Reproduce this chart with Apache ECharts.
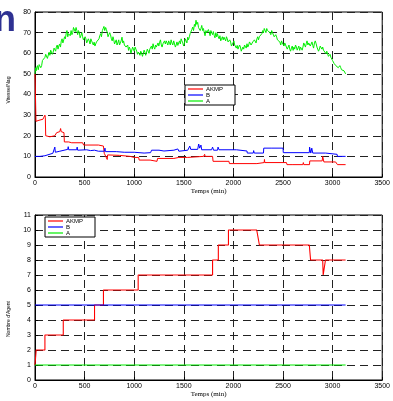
<!DOCTYPE html>
<html><head><meta charset="utf-8">
<script src="https://cdn.jsdelivr.net/npm/echarts@6/dist/echarts.min.js"></script>
<style>html,body{margin:0;padding:0;background:#fff}#c{width:393px;height:401px}</style>
</head><body><div id="c"></div>
<script>
const seriesNames = ['AKMP', 'B', 'A'];
const xLabelName = 'Temps (min)';
const yNameTop = 'Vitesse/Nag';
const yNameBottom = "Nombre d'Agent";

// top chart
const akmpTop = [[0,50],[6,50],[10,27],[40,27.5],[60,27],[80,28],[95,28.5],[100,30],[104,29],[108,20],[150,19.5],[200,20],[215,20.4],[218,21.5],[250,22],[258,23.5],[264,22],[292,21.5],[296,17],[340,17],[360,17.5],[370,16.6],[480,16.6],[490,15.5],[640,15.5],[650,15],[690,15],[698,11.5],[715,10.7],[728,8.5],[732,10.7],[850,10.5],[960,10],[1000,9.5],[1045,9.5],[1050,8.2],[1160,8.2],[1165,7.6],[1230,7.6],[1235,9],[1400,9],[1450,9.5],[1540,9.5],[1545,10],[1700,10],[1710,11],[1715,10],[1790,10],[1795,7.6],[1955,7.6],[1960,6.5],[2237,6.5],[2240,7],[2310,7],[2313,8.5],[2316,7],[2535,7],[2540,6],[2600,6],[2605,6.8],[2610,6],[2700,6],[2705,7],[2710,6],[2767,6],[2770,7.8],[2895,7.8],[2900,10],[2908,10],[2912,7.3],[3030,7.3],[3049,6],[3131,6]];
const bTop = [[0,10],[50,10],[100,10.3],[110,11.2],[180,11.5],[190,12],[200,14.5],[205,12],[250,12.5],[255,13.4],[330,13.4],[335,14.7],[340,13.2],[420,13.2],[425,14.5],[430,13],[520,13.2],[560,12.8],[600,13],[640,12.5],[700,12.5],[705,14],[710,12.3],[820,12.3],[900,12],[1000,12],[1100,11.6],[1165,11.8],[1175,13],[1250,13],[1300,12.6],[1310,13],[1400,13],[1440,13.6],[1450,12.5],[1460,13],[1540,13],[1560,15],[1570,13.4],[1640,13.4],[1650,16],[1660,14],[1673,15.5],[1680,13.2],[1780,13.2],[1790,14.5],[1800,13],[1840,13],[1845,14.5],[1855,13.2],[2030,13.2],[2040,12.6],[2137,12.6],[2140,11.6],[2200,11.6],[2204,12.8],[2210,11.6],[2303,11.6],[2306,14],[2380,14],[2386,14.8],[2395,14],[2500,14],[2503,11.8],[2765,11.8],[2768,14.5],[2780,11.6],[2790,14],[2800,11.6],[2930,11.6],[2933,11],[3045,11],[3049,10],[3131,10]];
const aTop = [[0,50],[4,52],[8,53],[12,51.5],[17,53],[25,54],[33,52],[42,54.5],[50,55],[58,53],[67,54],[75,56.5],[83,56],[92,57],[100,58],[108,59.5],[117,60],[125,57.5],[133,58],[142,60.5],[150,59],[158,61.5],[167,61],[175,59.5],[183,60.5],[192,62.5],[200,62],[208,61],[215,63],[224,64],[232,62],[240,63.5],[248,64.5],[257,63],[265,66],[273,67],[281,65],[290,66.5],[298,68],[306,67],[314,69.5],[322,71],[330,68],[338,69.5],[347,70],[355,68.5],[364,71],[372,69],[380,70],[388,72.5],[397,72],[405,70.5],[414,72.5],[422,71],[430,69],[438,71],[447,70],[455,67.5],[463,68.5],[472,70],[480,68],[488,66.5],[497,66],[505,68],[513,67],[521,65],[530,65.4],[538,67],[546,66],[555,64.5],[563,67],[571,66],[579,65],[588,64],[596,65.4],[604,63.5],[612,64],[620,65.5],[629,64.6],[637,66],[645,67],[653,68.5],[662,69.5],[670,68],[679,71],[687,72],[695,73],[703,71],[712,72.5],[720,71.5],[728,70],[736,68],[745,67.8],[753,70],[761,69],[770,67],[778,66],[786,68],[794,66.5],[802,64.5],[811,65.4],[819,66.5],[827,64],[835,65],[844,66.5],[852,64],[860,65],[868,66],[877,67.8],[885,65],[893,66],[901,64],[910,64.6],[918,63],[926,62.5],[934,64],[943,61.4],[951,63],[959,62],[967,60],[976,60.6],[984,63],[992,62],[1000,61],[1009,63],[1017,62],[1025,61],[1033,59.5],[1042,60.6],[1050,61.5],[1058,59],[1066,61],[1075,60],[1083,58.5],[1091,59.8],[1100,61.5],[1108,60.5],[1116,59],[1124,59.8],[1132,62],[1141,61],[1149,60],[1157,62],[1165,61.5],[1174,63.5],[1182,62],[1190,64.6],[1198,63],[1207,62],[1215,64],[1223,63],[1231,62.5],[1240,65],[1248,63.5],[1257,65.4],[1265,66.5],[1273,64],[1281,63],[1290,64.6],[1298,65.5],[1306,66],[1314,64.5],[1323,66],[1331,65],[1339,64],[1347,66],[1356,65],[1364,64],[1372,66.5],[1380,65],[1389,64],[1398,66],[1407,65.4],[1415,63],[1423,64],[1431,65.5],[1440,63.8],[1448,65],[1457,66],[1465,64.5],[1473,67],[1481,66],[1490,65],[1498,63.5],[1506,64.6],[1514,67],[1523,66],[1531,65],[1539,67.8],[1547,66.5],[1556,68],[1564,69.5],[1572,70],[1581,71.5],[1590,72.7],[1598,71],[1607,74],[1615,73],[1623,76],[1631,74],[1640,75],[1648,72.5],[1657,73],[1665,71],[1673,72],[1681,73.5],[1690,71],[1698,72],[1706,70],[1714,68.5],[1723,71],[1731,70],[1740,69.5],[1748,71.5],[1757,70],[1765,68.5],[1773,71],[1781,70],[1790,69],[1798,70.5],[1806,68.7],[1814,67.5],[1823,70],[1831,68],[1839,69.5],[1847,68],[1856,67],[1864,68.5],[1872,66],[1880,67],[1889,68],[1897,66.5],[1905,67.8],[1913,67],[1922,66],[1930,68],[1938,67],[1946,65.5],[1955,65],[1963,66.5],[1972,65.4],[1980,63.5],[1988,64],[1996,65],[2005,66],[2013,64],[2021,64.5],[2029,62.5],[2038,63.8],[2046,62],[2054,62],[2062,64],[2071,63],[2079,61],[2088,61],[2096,63],[2104,62],[2112,64],[2121,63.5],[2129,62.5],[2137,64.6],[2145,63],[2154,64],[2162,65.5],[2170,65.4],[2178,64],[2187,64],[2195,65.5],[2204,64.6],[2212,66.5],[2220,66],[2228,65],[2237,67],[2245,68],[2253,66.5],[2261,68],[2270,68.7],[2278,67.5],[2287,69.5],[2295,71],[2303,70],[2311,72],[2320,71],[2328,70],[2336,72],[2344,71],[2353,70.5],[2361,71.5],[2369,70],[2377,69],[2386,71],[2394,70],[2403,69.5],[2411,68],[2419,68],[2427,69],[2436,67.8],[2444,66.5],[2452,66],[2460,67],[2469,65.4],[2477,64],[2485,66],[2493,65],[2502,64.6],[2510,63.5],[2518,65],[2526,64],[2535,63.8],[2543,62],[2552,63],[2560,64],[2568,62],[2576,61],[2585,62.5],[2593,63.5],[2602,61.4],[2610,63],[2618,62],[2626,64],[2635,63],[2643,61.5],[2651,62],[2659,63.5],[2668,61.4],[2676,63],[2685,62.5],[2693,61.5],[2701,63],[2709,65],[2718,64],[2726,63],[2734,64.6],[2742,66],[2751,64],[2759,65],[2767,65.4],[2775,63.5],[2784,64],[2792,65.5],[2800,63.8],[2808,62.5],[2817,65],[2825,66],[2834,64.6],[2842,63],[2850,63],[2858,61],[2867,62],[2875,63.5],[2884,64],[2892,62],[2900,63],[2908,61.5],[2917,61],[2925,62],[2933,59.8],[2941,61],[2950,60.5],[2958,58.5],[2966,59],[2974,59.5],[2983,58],[2991,57.5],[2999,56.5],[3007,56],[3016,55],[3024,55.5],[3032,54],[3040,54.5],[3049,54],[3057,53],[3065,53.3],[3073,54],[3082,53],[3090,52],[3098,52.5],[3106,52],[3115,51.5],[3123,51],[3131,50]];

// bottom chart
const akmpBottom = [[0,1],[12,1],[12,2],[100,2],[100,3],[285,3],[285,4],[600,4],[600,5],[690,5],[690,6],[1040,6],[1040,7],[1790,7],[1790,8],[1848,8],[1848,9],[1950,9],[1950,10],[2235,10],[2262,9],[2765,9],[2778,8],[2900,8],[2905,7],[2922,7],[2928,8],[3131,8]];
const bBottom = [[0,5],[3131,5]];
const aBottom = [[0,1],[3131,1]];

const xMin = 0, xMax = 3500, xStep = 500;
const yTopMin = 0, yTopMax = 80, yTopStep = 10;
const yBotMin = 0, yBotMax = 11, yBotStep = 1;

const colors = ['#ff0000', '#0000ff', '#00ee00'];
const tickFont = {fontSize: 7, fontFamily: 'Liberation Sans', color: '#000', formatter: function (v) { return String(v); }};
const split = {show: true, lineStyle: {color: '#222', type: [8, 5], width: 1}};

function xAx(gi, nameGap) {
  return {type: 'value', gridIndex: gi, min: xMin, max: xMax, interval: xStep,
    name: xLabelName, nameLocation: 'middle', nameGap: nameGap,
    nameTextStyle: {fontSize: 7, fontFamily: 'Liberation Serif', color: '#000'},
    axisLine: {show: true, lineStyle: {color: '#000'}},
    axisTick: {show: true, inside: true, length: 3, lineStyle: {color: '#000'}},
    axisLabel: Object.assign({margin: 3}, tickFont),
    splitLine: split};
}
function yAx(gi, mn, mx, st) {
  return {type: 'value', gridIndex: gi, min: mn, max: mx, interval: st,
    axisLine: {show: true, lineStyle: {color: '#000'}},
    axisTick: {show: true, inside: true, length: 3, lineStyle: {color: '#000'}},
    axisLabel: Object.assign({margin: 4}, tickFont),
    splitLine: split};
}
function ser(name, data, gi, color, w) {
  return {name: name, type: 'line', xAxisIndex: gi, yAxisIndex: gi, data: data,
    symbol: 'none', animation: false, lineStyle: {color: color, width: w},
    itemStyle: {color: color}};
}
function leg(left, top) {
  return {data: seriesNames, orient: 'vertical', left: left, top: top,
    icon: 'rect', itemWidth: 15, itemHeight: 1.2, itemGap: 0,
    backgroundColor: '#fff', borderColor: '#000', borderWidth: 1,
    padding: [1, 12, 1, 3], selectedMode: false,
    textStyle: {fontSize: 6, lineHeight: 6, fontFamily: 'Liberation Sans', color: '#000', padding: [0, 0, 0, -2]}};
}

const chart = echarts.init(document.getElementById('c'), null, {renderer: 'canvas'});
chart.setOption({
  animation: false,
  backgroundColor: '#fff',
  grid: [
    {left: 35, top: 12, width: 352, height: 165, show: true, borderColor: '#000', borderWidth: 1, backgroundColor: 'transparent'},
    {left: 35, top: 215, width: 352, height: 165, show: true, borderColor: '#000', borderWidth: 1, backgroundColor: 'transparent'}
  ],
  xAxis: [xAx(0, 11), xAx(1, 11)],
  yAxis: [yAx(0, yTopMin, yTopMax, yTopStep), yAx(1, yBotMin, yBotMax, yBotStep)],
  legend: [leg(185, 85), leg(45, 217)],
  series: [
    ser(seriesNames[0], akmpTop, 0, colors[0], 1),
    ser(seriesNames[1], bTop, 0, colors[1], 1),
    ser(seriesNames[2], aTop, 0, colors[2], 1),
    ser(seriesNames[0], akmpBottom, 1, colors[0], 1.1),
    ser(seriesNames[1], bBottom, 1, colors[1], 1.1),
    ser(seriesNames[2], aBottom, 1, colors[2], 1.1)
  ],
  graphic: [
    {type: 'text', left: -6, top: 3, style: {text: 'n', font: 'bold 36px "Liberation Sans"', fill: '#2e3192'}},
    {type: 'text', x: 9, y: 90, rotation: Math.PI / 2, style: {text: yNameTop, font: '5px "Liberation Sans"', fill: '#000', align: 'center', verticalAlign: 'middle'}},
    {type: 'text', x: 9, y: 319, rotation: Math.PI / 2, style: {text: yNameBottom, font: '5px "Liberation Sans"', fill: '#000', align: 'center', verticalAlign: 'middle'}}
  ]
});
</script></body></html>
